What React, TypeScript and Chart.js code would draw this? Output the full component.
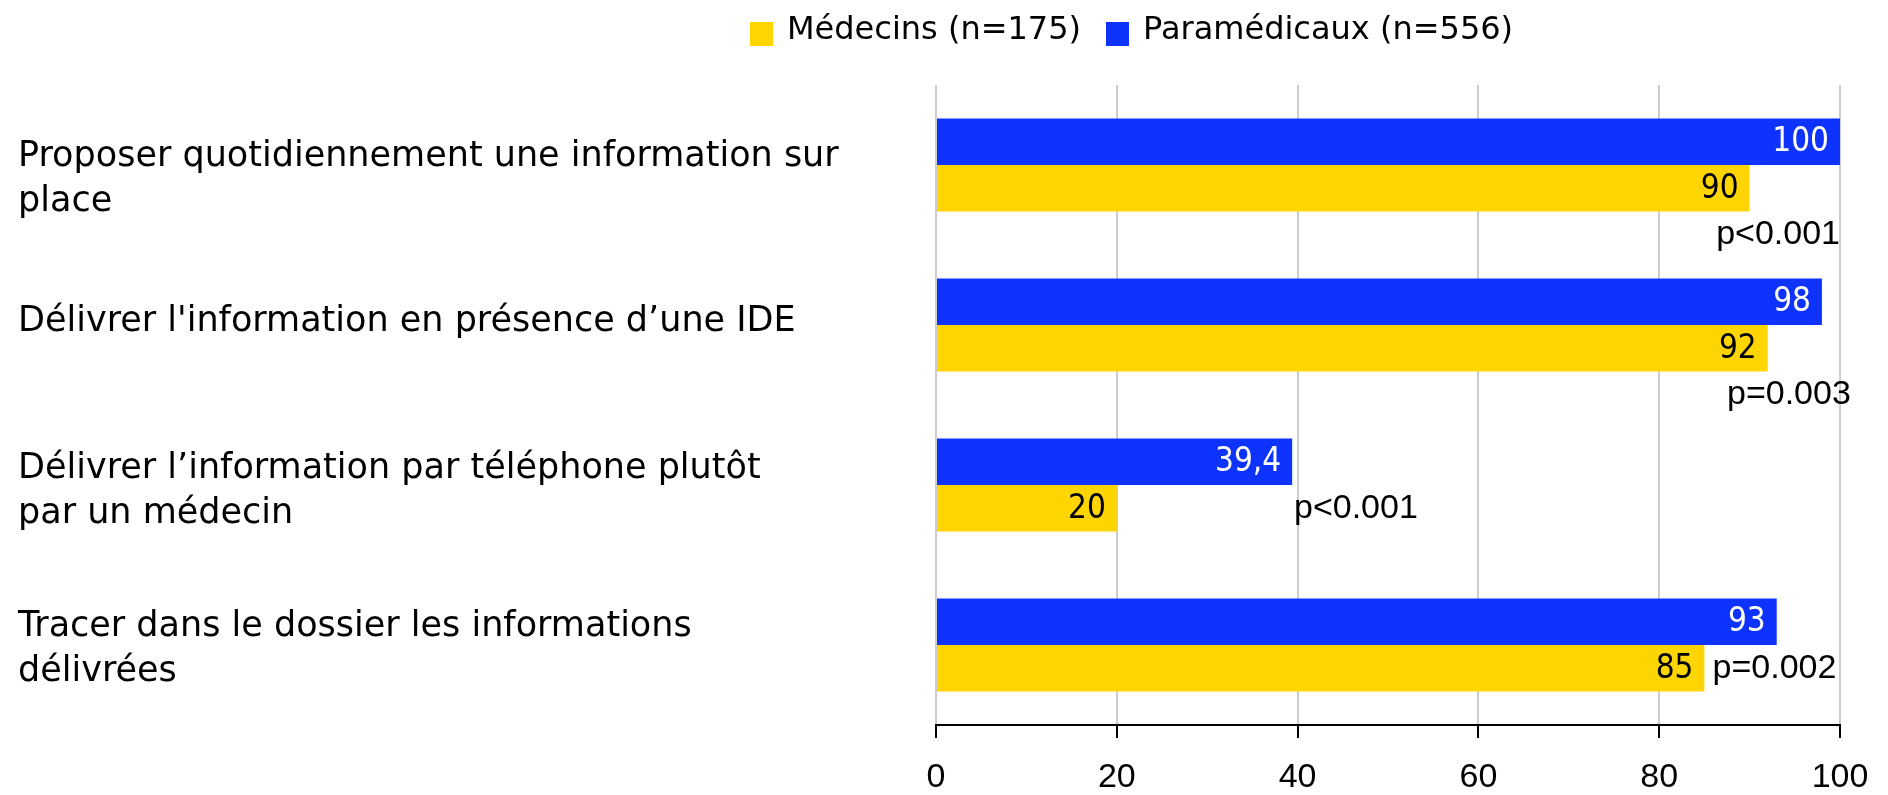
import React, { useEffect, useRef } from 'react';
import { Chart, registerables } from 'chart.js';

Chart.register(...registerables);

// ---- data ----
const categories: string[][] = [
  ['Proposer quotidiennement une information sur', 'place'],
  ["Délivrer l'information en présence d’une IDE"],
  ['Délivrer l’information par téléphone plutôt', 'par un médecin'],
  ['Tracer dans le dossier les informations', 'délivrées'],
];
const seriesNames = ['Médecins (n=175)', 'Paramédicaux (n=556)'];
const medecins = [90, 92, 20, 85];
const paramedicaux = [100, 98, 39.4, 93];
const pValues = ['p<0.001', 'p=0.003', 'p<0.001', 'p=0.002'];
// annotation placement (x value where the p-value text is anchored)
const pAnchors = [100, 101.2, 39.6, 85.9];
const pAlign: CanvasTextAlign[] = ['right', 'right', 'left', 'left'];
const pRowsBelow = [1, 1, 0, 0];
// small vertical nudges of the category labels (px)
const labelNudge = [14, -3, 6, 4];
const xTickStep = 20;

// ---- styles ----
const YELLOW = '#ffd500';
const BLUE = '#0f33ff';
const LABEL_FONT = '"DejaVu Sans", "Liberation Sans", Arial, sans-serif';
const VALUE_FONT = '"Liberation Sans Narrow", "DejaVu Sans Condensed", "Liberation Sans", sans-serif';
const LABEL_SIZE = 35;
const LABEL_LINE = 45;

const fmt = (v: number) => String(v).replace('.', ',');

const categoryLabels = {
  id: 'categoryLabels',
  afterDraw(chart: any) {
    const ctx = chart.ctx;
    const y = chart.scales.y;
    ctx.save();
    ctx.font = `${LABEL_SIZE}px ${LABEL_FONT}`;
    ctx.fillStyle = '#000';
    ctx.textAlign = 'left';
    ctx.textBaseline = 'middle';
    categories.forEach((lines, i) => {
      const c = y.getPixelForTick(i);
      const y0 = c - ((lines.length - 1) * LABEL_LINE) / 2 + labelNudge[i];
      lines.forEach((line, j) => ctx.fillText(line, y.left, y0 + j * LABEL_LINE));
    });
    ctx.restore();
  },
};

const valueLabels = {
  id: 'valueLabels',
  afterDatasetsDraw(chart: any) {
    const ctx = chart.ctx;
    ctx.save();
    ctx.font = `33px ${VALUE_FONT}`;
    ctx.textAlign = 'right';
    ctx.textBaseline = 'middle';
    chart.data.datasets.forEach((ds: any, di: number) => {
      const meta = chart.getDatasetMeta(di);
      meta.data.forEach((bar: any, i: number) => {
        ctx.fillStyle = ds.backgroundColor === BLUE ? '#ffffff' : '#000000';
        ctx.fillText(fmt(ds.data[i]), bar.x - 11, bar.y + 1);
      });
    });
    // p-values
    const x = chart.scales.x;
    const yellowMeta = chart.getDatasetMeta(1);
    ctx.font = `34px "Liberation Sans", Arial, sans-serif`;
    ctx.fillStyle = '#000';
    pValues.forEach((txt, i) => {
      const bar: any = yellowMeta.data[i];
      const h = bar.height;
      ctx.textAlign = pAlign[i];
      ctx.fillText(txt, x.getPixelForValue(pAnchors[i]), bar.y + pRowsBelow[i] * h);
    });
    ctx.restore();
  },
};

export default function App() {
  const ref = useRef<HTMLCanvasElement>(null);
  useEffect(() => {
    if (!ref.current) return;
    const chart = new Chart(ref.current, {
      type: 'bar',
      data: {
        labels: categories,
        datasets: [
          {
            label: seriesNames[1],
            data: paramedicaux,
            backgroundColor: BLUE,
            categoryPercentage: 0.58,
            barPercentage: 1,
          },
          {
            label: seriesNames[0],
            data: medecins,
            backgroundColor: YELLOW,
            categoryPercentage: 0.58,
            barPercentage: 1,
          },
        ],
      },
      options: {
        indexAxis: 'y',
        animation: false,
        responsive: false,
        maintainAspectRatio: false,
        layout: { padding: { left: 10, right: 40, top: 77, bottom: 0 } },
        plugins: { legend: { display: false }, tooltip: { enabled: false } },
        scales: {
          x: {
            min: 0,
            max: 100,
            ticks: {
              stepSize: xTickStep,
              color: '#000',
              font: { family: '"Liberation Sans", Arial, sans-serif', size: 34 },
              padding: 19,
            },
            grid: { color: '#cccccc', lineWidth: 2, tickColor: '#000', tickLength: 13, tickWidth: 2 },
            border: { display: true, color: '#000', width: 2 },
            afterFit: (s: any) => {
              s.height = 62;
              s.paddingLeft = 0;
              s.paddingRight = 0;
            },
          },
          y: {
            grid: { display: false },
            border: { display: false },
            ticks: { display: false },
            afterFit: (s: any) => {
              s.width = 918;
              s.paddingTop = 0;
              s.paddingBottom = 0;
            },
          },
        },
      },
      plugins: [valueLabels, categoryLabels],
    });
    return () => chart.destroy();
  }, []);

  const sq = (color: string, ml: number) => (
    <span
      style={{
        display: 'inline-block',
        width: 23,
        height: 24,
        background: color,
        verticalAlign: '-7px',
        marginLeft: ml,
        marginRight: 14,
      }}
    />
  );

  return (
    <div style={{ position: 'relative', width: 1872, height: 779 }}>
      <canvas ref={ref} width={1872} height={779} style={{ width: 1872, height: 779, display: 'block' }} />
      <div
        style={{
          position: 'absolute',
          left: 742,
          top: 0,
          fontFamily: LABEL_FONT,
          fontSize: 32,
          lineHeight: '40px',
          whiteSpace: 'nowrap',
          color: '#000',
        }}
      >
        {sq(YELLOW, 0)}
        <span>{seriesNames[0]}</span>
        {sq(BLUE, 25)}
        <span>{seriesNames[1]}</span>
      </div>
    </div>
  );
}
